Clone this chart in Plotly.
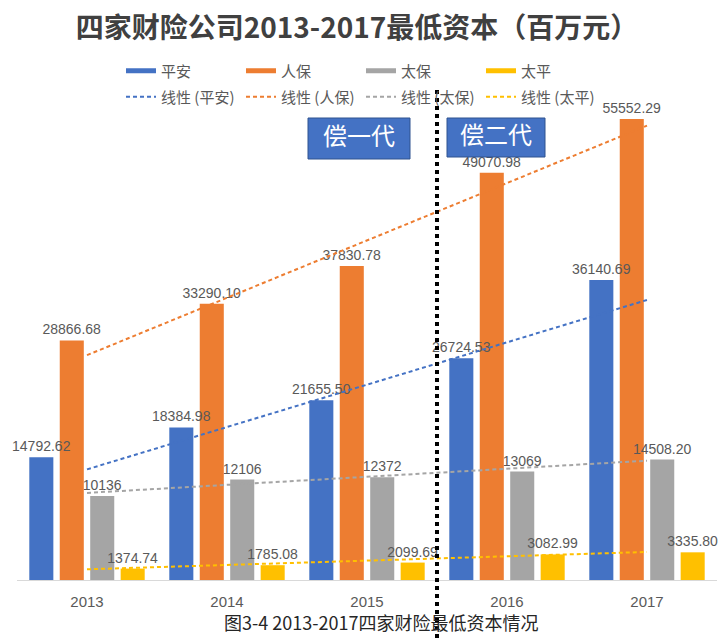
import numpy as np
import plotly.graph_objects as go

years = ["2013", "2014", "2015", "2016", "2017"]
pingan = [14792.62, 18384.98, 21655.50, 26724.53, 36140.69]
renbao = [28866.68, 33290.10, 37830.78, 49070.98, 55552.29]
taibao = [10136, 12106, 12372, 13069, 14508.20]
taiping = [1374.74, 1785.08, 2099.69, 3082.99, 3335.80]
series_names = ["平安", "人保", "太保", "太平"]
colors = ["#4472C4", "#ED7D31", "#A5A5A5", "#FFC000"]
title_text = "四家财险公司2013-2017最低资本（百万元）"
caption_text = "图3-4 2013-2017四家财险最低资本情况"
era_labels = ["偿一代", "偿二代"]


def fmt(v):
    return str(v) if isinstance(v, int) else f"{v:.2f}"


# grouped-bar geometry (fractions of a category)
BARGAP, GROUPGAP = 0.13, 0.21
n = 4
slot = (1 - BARGAP) / n
bw = slot * (1 - GROUPGAP)
offsets = [-(1 - BARGAP) / 2 + i * slot + (slot - bw) / 2 for i in range(n)]

fig = go.Figure()
all_series = [pingan, renbao, taibao, taiping]
for i, (name, vals, c) in enumerate(zip(series_names, all_series, colors)):
    fig.add_trace(go.Bar(
        x=years, y=vals, name=name, marker=dict(color=c, line=dict(width=0)),
        width=bw, offset=offsets[i], showlegend=False, legendgroup=name,
    ))
# value labels drawn on top of all bars
for i, (name, vals) in enumerate(zip(series_names, all_series)):
    fig.add_trace(go.Bar(
        x=years, y=vals, name=name, marker=dict(color="rgba(0,0,0,0)", line=dict(width=0)),
        width=bw, offset=offsets[i], text=[fmt(v) for v in vals],
        textposition="outside", constraintext="none", cliponaxis=False,
        textfont=dict(size=14, color="#595959", family="Liberation Sans"),
        showlegend=False, legendgroup=name, hoverinfo="skip",
    ))

# legend swatches for the bars
for name, c in zip(series_names, colors):
    fig.add_trace(go.Scatter(
        x=[None], y=[None], mode="lines", name=name, legendgroup=name,
        line=dict(color=c, width=5), legend="legend", hoverinfo="skip",
    ))

# linear trend lines
xi = np.arange(len(years))
for name, vals, c in zip(series_names, all_series, colors):
    k, b = np.polyfit(xi, np.array(vals, dtype=float), 1)
    fig.add_trace(go.Scatter(
        x=years, y=k * xi + b, mode="lines", name=f"线性 ({name})",
        line=dict(color=c, width=2, dash="4px,3px"), legend="legend2",
        hoverinfo="skip", cliponaxis=False,
    ))

PT, PB, L, R = 60, 580, 17, 3
PH = PB - PT
PW = 720 - L - R


def py(pix):
    return (PB - pix) / PH


def px(pix):
    return (pix - L) / PW


legend_common = dict(
    orientation="h", entrywidth=75, entrywidthmode="pixels",
    font=dict(size=15, color="#595959", family="Noto Sans CJK SC"),
    bgcolor="rgba(0,0,0,0)", xanchor="left", yanchor="middle",
    itemclick="toggle", tracegroupgap=0,
)

fig.update_layout(
    width=720, height=638,
    margin=dict(l=L, r=R, t=PT, b=638 - PB),
    paper_bgcolor="white", plot_bgcolor="white",
    barmode="overlay",
    title=dict(text=f"<b>{title_text}</b>", x=357 / 720, xanchor="center",
               y=1 - 28 / 638, yanchor="middle", yref="container",
               font=dict(size=28, color="#404040", family="Noto Sans CJK SC")),
    legend=dict(x=px(121), y=py(71), **legend_common),
    legend2=dict(x=px(121), y=py(97), **legend_common),
    xaxis=dict(type="category", range=[-0.5, 4.5], showgrid=False, showline=True,
               linecolor="#D9D9D9", linewidth=1, ticks="", ticklabelstandoff=8,
               tickfont=dict(size=15, color="#595959", family="Liberation Sans")),
    yaxis=dict(range=[0, 520 / 0.008298], visible=False, showgrid=False),
    font=dict(family="Noto Sans CJK SC"),
)

# divider between the two regimes
fig.add_shape(type="line", xref="x", yref="paper", x0=2.5, x1=2.5,
              y0=py(638), y1=py(86), line=dict(color="black", width=4, dash="dot"))

boxes = [(308, 410, 118, 159), (447, 545, 118, 157)]
for lab, (x0, x1, y0, y1) in zip(era_labels, boxes):
    fig.add_shape(type="rect", xref="paper", yref="paper",
                  x0=px(x0), x1=px(x1), y0=py(y1), y1=py(y0),
                  fillcolor="#4472C4", line=dict(color="#2F528F", width=1),
                  label=dict(text=lab, font=dict(size=24, color="white",
                                                 family="Noto Sans CJK SC")))

fig.add_annotation(text=caption_text, xref="paper", yref="paper",
                   x=px(381), y=py(622), showarrow=False, xanchor="center", yanchor="middle",
                   font=dict(size=18, color="#262626", family="Noto Sans CJK SC"))

fig.write_html("out.html", config={"displayModeBar": False},
               post_script="document.body.style.margin='0';document.body.style.overflow='hidden';")
